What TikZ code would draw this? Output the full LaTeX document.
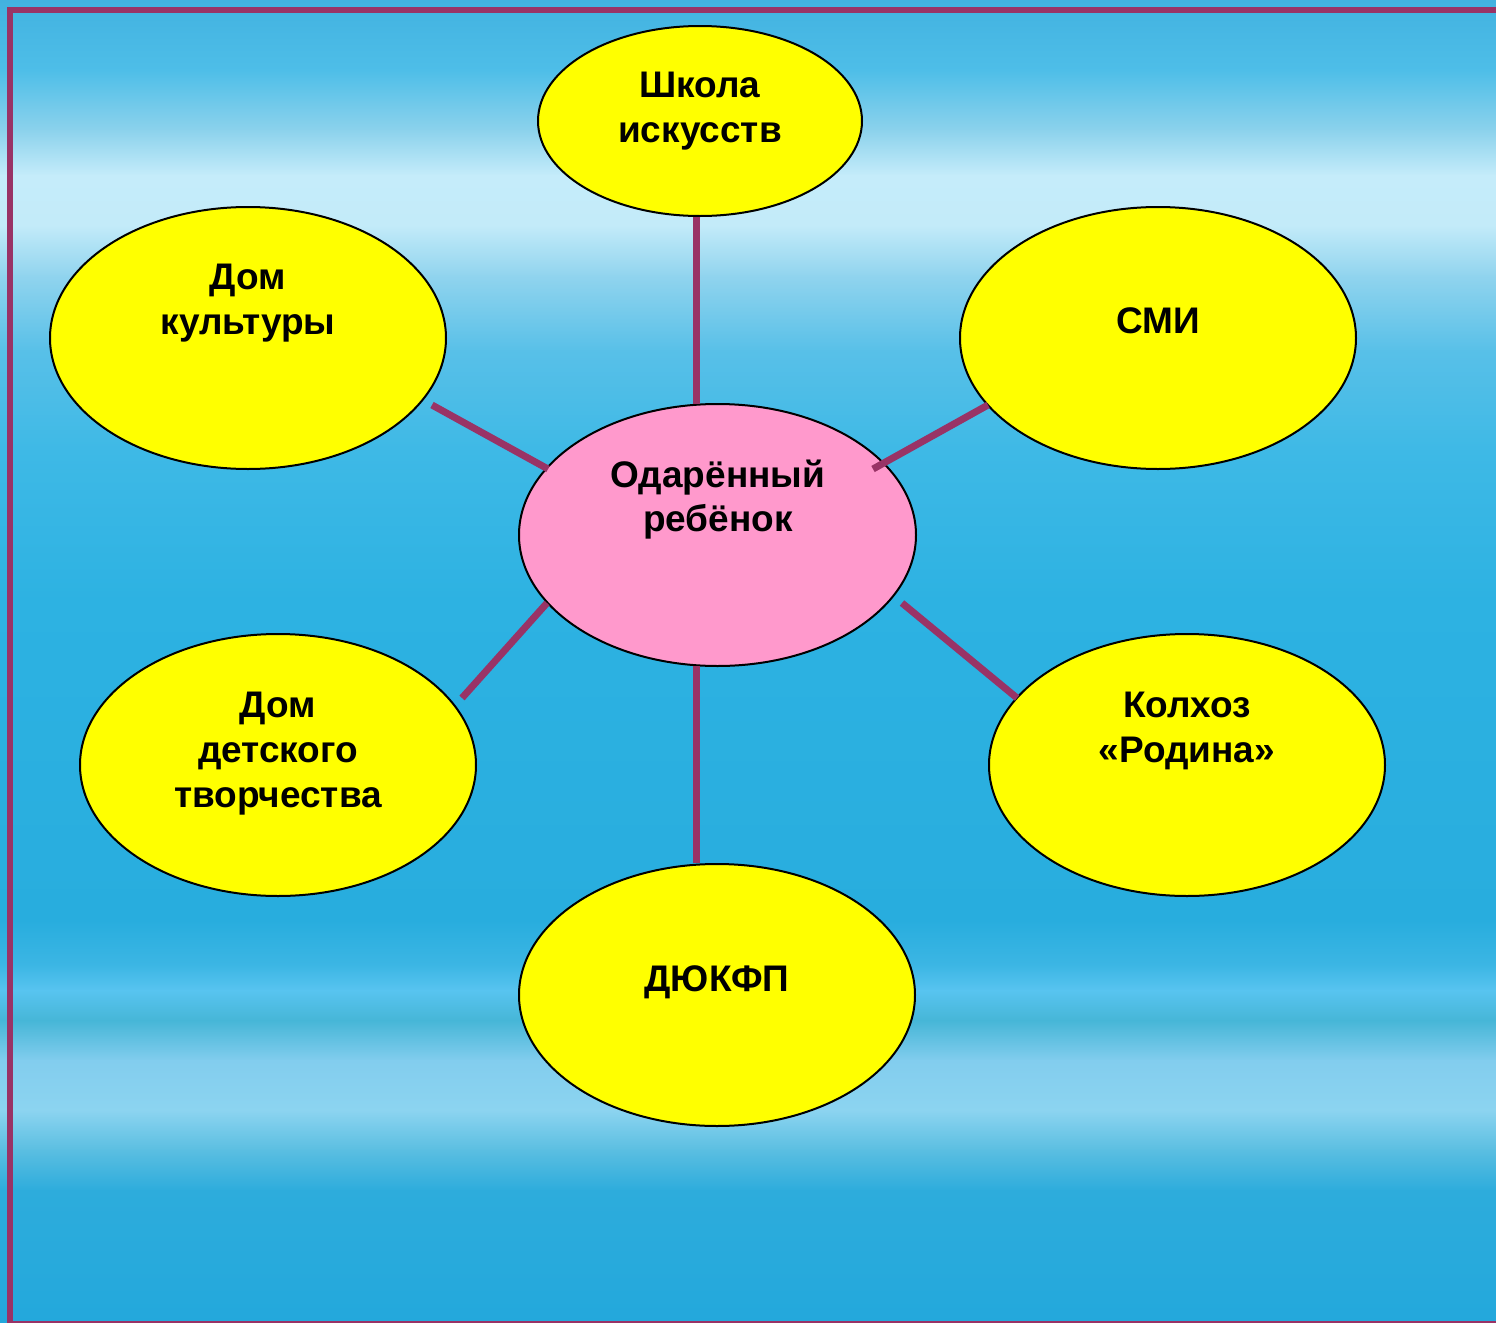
\documentclass[tikz,border=0pt]{standalone}
\usepackage{fontspec}
\setmainfont{Liberation Sans}
\usetikzlibrary{shapes.geometric,calc}
\definecolor{brd}{RGB}{153,51,102}
\definecolor{pinkf}{RGB}{255,153,204}
\definecolor{yel}{RGB}{255,255,0}
\definecolor{b0}{RGB}{66,178,224}
\definecolor{b1}{RGB}{78,190,232}
\definecolor{b2}{RGB}{140,210,236}
\definecolor{b3}{RGB}{197,236,250}
\definecolor{b4}{RGB}{195,235,249}
\definecolor{b5}{RGB}{145,212,238}
\definecolor{b6}{RGB}{88,192,232}
\definecolor{b7}{RGB}{62,185,230}
\definecolor{b8}{RGB}{45,178,226}
\definecolor{b9}{RGB}{40,173,222}
\definecolor{b10}{RGB}{60,182,228}
\definecolor{b11}{RGB}{88,196,240}
\definecolor{b12}{RGB}{70,182,215}
\definecolor{b13}{RGB}{130,205,238}
\definecolor{b14}{RGB}{140,212,240}
\definecolor{b15}{RGB}{90,190,225}
\definecolor{b16}{RGB}{45,172,220}
\definecolor{b17}{RGB}{35,168,220}
\begin{document}
\begin{tikzpicture}[x=0.5pt,y=-0.5pt,
  bub/.style={ellipse,draw=black,line width=1pt,fill=yel,inner sep=0pt,
    minimum width=198pt,minimum height=131pt},
  lbl/.style={font=\fontsize{18.5}{22.5}\selectfont\bfseries,anchor=base,inner sep=0pt},
  conn/.style={draw=brd,line width=3.5pt}]
\useasboundingbox (0,0) rectangle (1496,1323);
\clip (0,0) rectangle (1496,1323);
% background bands
\shade[top color=b0,bottom color=b1] (0,-1) rectangle (1496,71);
\shade[top color=b1,bottom color=b2] (0,70) rectangle (1496,131);
\shade[top color=b2,bottom color=b3] (0,130) rectangle (1496,176);
\shade[top color=b3,bottom color=b4] (0,175) rectangle (1496,226);
\shade[top color=b4,bottom color=b5] (0,225) rectangle (1496,276);
\shade[top color=b5,bottom color=b6] (0,275) rectangle (1496,351);
\shade[top color=b6,bottom color=b7] (0,350) rectangle (1496,451);
\shade[top color=b7,bottom color=b8] (0,450) rectangle (1496,601);
\shade[top color=b8,bottom color=b9] (0,600) rectangle (1496,921);
\shade[top color=b9,bottom color=b10] (0,920) rectangle (1496,966);
\shade[top color=b10,bottom color=b11] (0,965) rectangle (1496,991);
\shade[top color=b11,bottom color=b12] (0,990) rectangle (1496,1021);
\shade[top color=b12,bottom color=b13] (0,1020) rectangle (1496,1061);
\shade[top color=b13,bottom color=b14] (0,1060) rectangle (1496,1111);
\shade[top color=b14,bottom color=b15] (0,1110) rectangle (1496,1151);
\shade[top color=b15,bottom color=b16] (0,1150) rectangle (1496,1191);
\shade[top color=b16,bottom color=b17] (0,1190) rectangle (1496,1324);
% frame
\draw[brd,line width=3pt] (9.5,9.5) rectangle (1520,1323.5);
% ellipses
\node[bub,minimum width=162pt,minimum height=95pt] (skola) at (700,121) {};
\node[bub] (dk) at (248,338) {};
\node[bub] (smi) at (1158,338) {};
\node[bub,fill=pinkf,minimum width=198.5pt] (c) at (717.5,535) {};
\node[bub] (ddt) at (278,765) {};
\node[bub] (kol) at (1187,765) {};
\node[bub] (dyuk) at (717,995) {};
% connectors
\draw[conn] ($(skola.south)+(-4,0)$) -- ($(c.north)+(-21.5,1)$);
\draw[conn] ($(c.south)+(-21.5,-1)$) -- ($(dyuk.north)+(-21,0)$);
\draw[conn] ($(dk.center)+(184,67)$) -- ($(c.center)+(-169.5,-66)$);
\draw[conn] ($(c.center)+(155.5,-66)$) -- ($(smi.center)+(-170,67)$);
\draw[conn] ($(c.center)+(-170.5,68)$) -- ($(ddt.center)+(184,-67)$);
\draw[conn] ($(c.center)+(184.5,68)$) -- ($(kol.center)+(-170,-67)$);
% labels
\node[lbl] (t1a) at (700,97) {Школа};
\node[lbl] (t1b) at (700,142) {искусств};
\node[lbl] (t2a) at (248,289) {Дом};
\node[lbl] (t2b) at (248,334) {культуры};
\node[lbl] (t3a) at (1158,333) {СМИ};
\node[lbl] (t4a) at (718,487) {Одарённый};
\node[lbl] (t4b) at (718,531) {ребёнок};
\node[lbl] (t5a) at (278,717) {Дом};
\node[lbl] (t5b) at (278,762) {детского};
\node[lbl] (t5c) at (278,807) {творчества};
\node[lbl] (t6a) at (1187,717) {Колхоз};
\node[lbl] (t6b) at (1187,762) {«Родина»};
\node[lbl] (t7a) at (717,991) {ДЮКФП};
\end{tikzpicture}
\end{document}
